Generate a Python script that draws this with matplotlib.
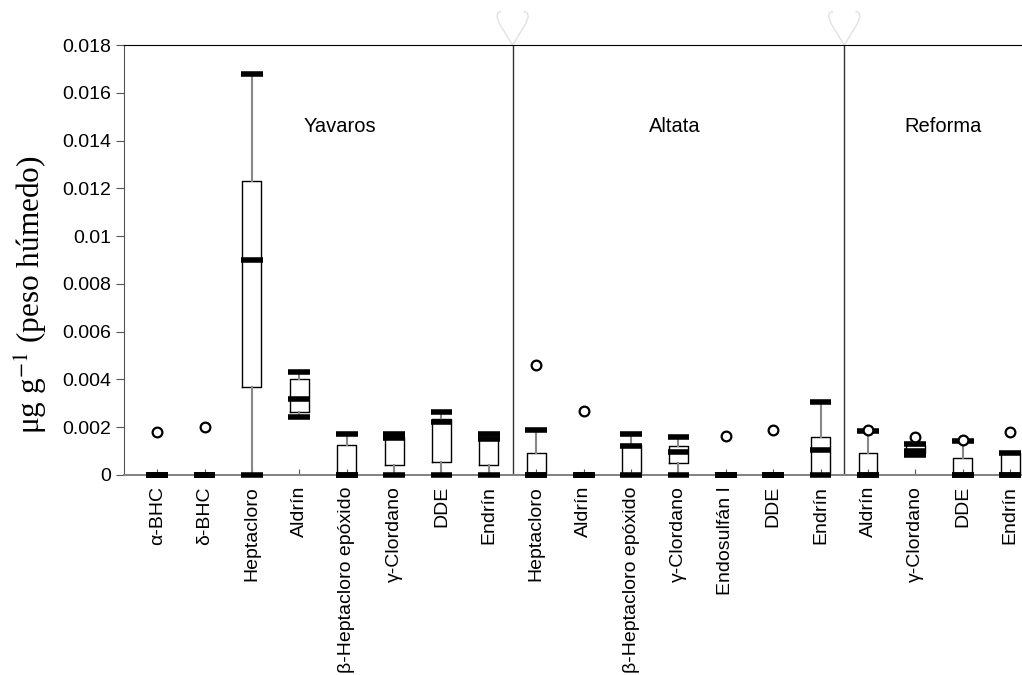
import matplotlib
matplotlib.use("Agg")
import matplotlib.pyplot as plt
from matplotlib.ticker import FuncFormatter

# compounds per site
labels = ["α-BHC", "δ-BHC", "Heptacloro", "Aldrín", "β-Heptacloro epóxido",
          "γ-Clordano", "DDE", "Endrín",
          "Heptacloro", "Aldrín", "β-Heptacloro epóxido", "γ-Clordano",
          "Endosulfán I", "DDE", "Endrín",
          "Aldrín", "γ-Clordano", "DDE", "Endrín"]
sites = ["Yavaros", "Altata", "Reforma"]
site_sizes = [8, 7, 4]

# box statistics (µg/g wet weight)
whislo = [0, 0, 0, 0.00244, 0, 0, 0, 0,
          0, 0, 0, 0, 0, 0, 0,
          0, 0.00085, 0, 0]
q1 = [0, 0, 0.0037, 0.00265, 0, 0.0004, 0.00054, 0.0004,
      0, 0, 0, 0.00049, 0, 0, 0,
      0, 0.0009, 0, 0]
med = [0, 0, 0.009, 0.00318, 0, 0.00155, 0.0022, 0.0015,
       0, 0, 0.0012, 0.00098, 0, 0, 0.00105,
       0, 0.001, 0, 0]
q3 = [0, 0, 0.0123, 0.0040, 0.00127, 0.0016, 0.00234, 0.0016,
      0.00091, 0, 0.00125, 0.00123, 0, 0, 0.00159,
      0.00091, 0.00125, 0.00072, 0.00093]
whishi = [0, 0, 0.0168, 0.00432, 0.00173, 0.0017, 0.00264, 0.0017,
          0.00188, 0, 0.00173, 0.00158, 0, 0, 0.00307,
          0.00185, 0.0013, 0.00142, 0.00093]
outliers = [[0.0018], [0.0020], [], [], [], [], [], [],
            [0.0046], [0.0027], [], [], [0.00165], [0.00188], [],
            [0.0019], [0.00157], [0.00147], [0.0018]]

plt.rcParams['font.family'] = ['Liberation Sans', 'DejaVu Sans']
plt.rcParams['mathtext.fontset'] = 'stix'

fig = plt.figure(figsize=(10.22, 6.75), dpi=100)
ax = fig.add_axes([0.1213, 0.2963, 0.8787, 0.637])

stats = []
for i in range(len(labels)):
    stats.append(dict(whislo=whislo[i], q1=q1[i], med=med[i], q3=q3[i],
                      whishi=whishi[i], fliers=outliers[i]))

pos = list(range(len(labels)))
art = ax.bxp(stats, positions=pos, widths=0.4, capwidths=0.46,
             boxprops=dict(color="black", linewidth=1.0),
             whiskerprops=dict(color="#888888", linewidth=1.5),
             capprops=dict(color="black", linewidth=4.0, solid_capstyle="butt"),
             medianprops=dict(color="black", linewidth=4.0, solid_capstyle="butt"),
             flierprops=dict(marker="o", markersize=7, markerfacecolor="white",
                             markeredgecolor="black", markeredgewidth=1.6))
for key in art:
    for a in art[key]:
        a.set_clip_on(False)
for m in art["medians"]:
    m.set_xdata([m.get_xdata()[0] - 0.03, m.get_xdata()[1] + 0.03])
    m.set_zorder(3)
for c in art["caps"]:
    c.set_zorder(3)
for f in art["fliers"]:
    f.set_zorder(4)

ax.set_xlim(-0.7, 18.25)
ax.set_ylim(0, 0.018)
ax.set_yticks([i * 0.002 for i in range(10)])
ax.yaxis.set_major_formatter(FuncFormatter(lambda v, p: f"{v:g}"))
ax.set_xticks(pos)
ax.set_xticklabels(labels, rotation=90, fontsize=14)
ax.tick_params(axis="y", labelsize=14, direction="out", length=6, color="#555555")
ax.tick_params(axis="x", direction="in", length=4, color="#555555", pad=8)

ax.spines["right"].set_visible(False)
ax.spines["top"].set_color("black")
ax.spines["left"].set_color("#555555")
ax.spines["bottom"].set_color("#808080")
ax.spines["bottom"].set_linewidth(1.4)

# site separators and names
start = 0
centers = [3.86, 10.93, 16.58]
vx = [-0.25, -0.31, -0.33, -0.28, 0, 0.28, 0.33, 0.31, 0.25]
vy = [0.0194, 0.01935, 0.0192, 0.0189, 0.018, 0.0189, 0.0192, 0.01935, 0.0194]
for k, n in enumerate(site_sizes):
    end = start + n
    if end < len(labels):
        sep = end - 0.5
        ax.axvline(sep, color="#333333", linewidth=1.0)
        ax.plot([sep + d for d in vx], vy, color="#e2e2e2", linewidth=1.0,
                clip_on=False)
    ax.text(centers[k], 0.01457, sites[k], fontsize=14.5, ha="center", va="center")
    start = end

ax.set_ylabel("μg g$^{-1}$ (peso húmedo)", fontsize=22.5,
              family="Liberation Serif")
ax.yaxis.set_label_coords(-0.082, 0.42)

fig.savefig("out.png", dpi=100)
